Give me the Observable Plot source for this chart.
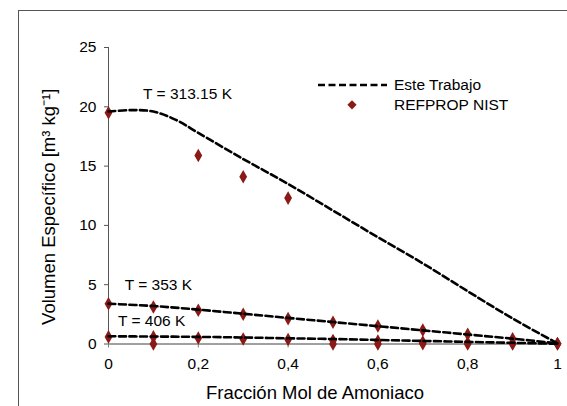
<!DOCTYPE html>
<html>
<head>
<meta charset="utf-8">
<script src="https://cdn.jsdelivr.net/npm/d3@7"></script>
<script src="https://cdn.jsdelivr.net/npm/@observablehq/plot@0.6"></script>
<style>
  html, body { margin: 0; padding: 0; background: #fff; }
  #wrap { position: relative; width: 567px; height: 406px; overflow: hidden; font-family: "Liberation Sans", Arial, sans-serif; }
  #chart { position: absolute; left: 0; top: 0; }
  #frame { position: absolute; left: 18px; top: 10px; width: 600px; height: 450px; box-sizing: border-box; border: 1px solid #555; pointer-events: none; z-index: 5; }
  #legend { position: absolute; left: 318px; top: 75px; font-size: 15.5px; color: #000; line-height: 19.5px; z-index: 6; }
  #legend .row { display: flex; align-items: center; height: 19.5px; }
  #legend svg { width: 76px; height: 19.5px; display: block; }
</style>
</head>
<body>
<div id="wrap">
  <div id="chart"></div>
  <div id="frame"></div>
  <div id="legend"></div>
</div>
<script>
// ---- data ----
const xFrac = [0, 0.1, 0.2, 0.3, 0.4, 0.5, 0.6, 0.7, 0.8, 0.9, 1];
const refprop313 = [19.5, 0.0, 15.9, 14.1, 12.3, 0.0, 0.0, 0.02, 0.0, 0.0, 0.03];
const refprop353 = [3.4, 3.12, 2.84, 2.5, 2.14, 1.83, 1.52, 1.17, 0.82, 0.45, 0.03];
const refprop406 = [0.6, 0.6, 0.5, 0.42, 0.38, 0.3, 0.26, 0.17, 0.1, 0.07, 0.02];

const xLine313 = [0, 0.05, 0.1, 0.15, 0.2, 0.3, 0.4, 0.5, 0.6, 0.7, 0.8, 0.9, 1];
const line313 = [19.6, 19.72, 19.6, 18.9, 17.8, 15.6, 13.5, 11.25, 9.0, 6.8, 4.45, 2.15, 0.05];
const line353 = [3.4, 3.2, 2.9, 2.55, 2.2, 1.85, 1.5, 1.15, 0.8, 0.45, 0.05];
const line406 = [0.65, 0.63, 0.6, 0.55, 0.48, 0.42, 0.34, 0.26, 0.18, 0.1, 0.02];

const xTicks = [0, 0.2, 0.4, 0.6, 0.8, 1];
const yTicks = [0, 5, 10, 15, 20, 25];

const labelText = ["T = 313.15 K", "T = 353 K", "T = 406 K"];
const labelX = [0.176, 0.111, 0.096];
const labelY = [21.1, 5.0, 1.9];

const seriesNames = ["Este Trabajo", "REFPROP NIST"];
const markerColor = "#8b1a17";

// ---- tables ----
const lines = [
  ...xLine313.map((x, i) => ({x, y: line313[i], T: "313.15"})),
  ...xFrac.map((x, i) => ({x, y: line353[i], T: "353"})),
  ...xFrac.map((x, i) => ({x, y: line406[i], T: "406"}))
];
const points = [
  ...xFrac.map((x, i) => ({x, y: refprop313[i]})),
  ...xFrac.map((x, i) => ({x, y: refprop353[i]})),
  ...xFrac.map((x, i) => ({x, y: refprop406[i]}))
];
const labels = labelText.map((t, i) => ({t, x: labelX[i], y: labelY[i]}));

const fmt = d => String(d).replace(".", ",");

const chart = Plot.plot({
  width: 567,
  height: 406,
  marginLeft: 108,
  marginRight: 10,
  marginTop: 47,
  marginBottom: 62.5,
  style: {fontFamily: "'Liberation Sans', Arial, sans-serif", fontSize: "15.5px", color: "#000", background: "transparent", overflow: "visible"},
  x: {domain: [0, 1], axis: null},
  y: {domain: [0, 25], axis: null},
  marks: [
    Plot.ruleY([0], {stroke: "#808080", strokeWidth: 1.3}),
    Plot.ruleX([0], {stroke: "#555", strokeWidth: 1}),
    Plot.axisX(xTicks, {tickSize: 4, tickPadding: 10, tickFormat: fmt, stroke: "#808080", label: null, fontSize: 15.5}),
    Plot.axisY(yTicks, {tickSize: 4, tickPadding: 8, stroke: "#555", label: null, fontSize: 15.5}),
    Plot.text(["Fracción Mol de Amoniaco"], {frameAnchor: "bottom", textAnchor: "middle", dx: -18, dy: 49, fontSize: 18.5, lineAnchor: "middle"}),
    Plot.text(["Volumen Específico [m³ kg⁻¹]"], {frameAnchor: "left", textAnchor: "middle", dx: -59, dy: 11, rotate: -90, fontSize: 18.5, lineAnchor: "middle"}),
    Plot.dot(points, {x: "x", y: "y", symbol: "diamond", r: 4.1, fill: markerColor, stroke: "none"}),
    Plot.line(lines, {x: "x", y: "y", z: "T", stroke: "#000", strokeWidth: 2.6, strokeDasharray: "7,3.5", curve: "catmull-rom"}),
    Plot.text(labels, {x: "x", y: "y", text: "t", fontSize: 15.5, fill: "#000"})
  ]
});
document.getElementById("chart").appendChild(chart);

// legend
const legend = document.getElementById("legend");
legend.innerHTML =
  `<div class="row"><svg viewBox="0 0 76 19.5"><line x1="0" x2="69" y1="10" y2="10" stroke="#000" stroke-width="2.6" stroke-dasharray="7,3.5"/></svg><span>${seriesNames[0]}</span></div>` +
  `<div class="row"><svg viewBox="0 0 76 19.5"><path d="M34,5.2L38.6,9.8L34,14.4L29.4,9.8Z" fill="${markerColor}"/></svg><span>${seriesNames[1]}</span></div>`;
</script>
</body>
</html>
